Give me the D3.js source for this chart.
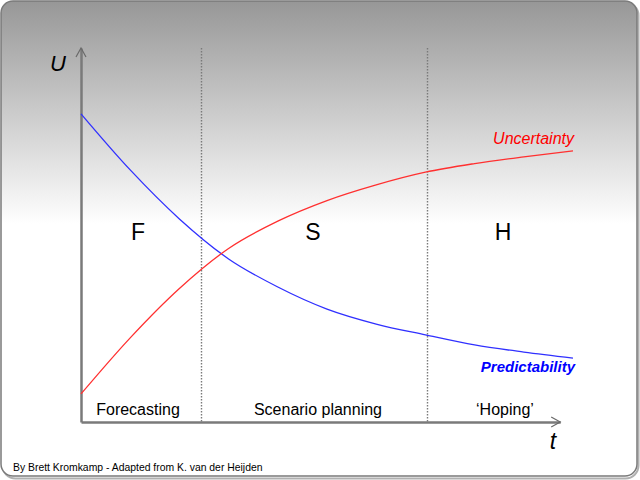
<!DOCTYPE html>
<html>
<head>
<meta charset="utf-8">
<script src="https://cdn.jsdelivr.net/npm/d3@7"></script>
<style>
  body { margin: 0; background: #fff; }
  text { font-family: "Liberation Sans", Arial, sans-serif; }
</style>
</head>
<body>
<div class="chart"></div>
<script>
// time steps (0 = now, 100 = far future)
var timeSteps = [0, 10, 20, 30, 40, 50, 60, 70, 80, 90, 100];
var predictability = [82.4, 67.4, 54.3, 43.6, 36.1, 30.2, 26.2, 23.3, 20.6, 18.7, 17.1];
var uncertainty = [7.5, 22.5, 35.7, 46.4, 53.7, 59.2, 63.4, 66.8, 69.1, 70.9, 72.5];

// zone boundaries on the time axis
var zoneBounds = [0, 24.4, 70.3, 100];
var zoneLetters = ["F", "S", "H"];
var zoneNames = ["Forecasting", "Scenario planning", "\u2018Hoping\u2019"];
var axisEnd = 97.4;

// small hand nudges so labels sit where the original had them (px)
var letterNudge = [-3, -1, 3];
var nameNudge = [-3, 4, 5];

var svgWidth = 640, svgHeight = 480;

var svg = d3.select(".chart")
  .append("svg")
  .attr("width", svgWidth)
  .attr("height", svgHeight);

// background gradient
var defs = svg.append("defs");
var grad = defs.append("linearGradient")
  .attr("id", "bg")
  .attr("x1", 0).attr("y1", 0).attr("x2", 0).attr("y2", 1);
grad.append("stop").attr("offset", "0").attr("stop-color", "#979797");
grad.append("stop").attr("offset", "0.47").attr("stop-color", "#ffffff");
grad.append("stop").attr("offset", "1").attr("stop-color", "#ffffff");

// shadow + frame
svg.append("rect")
  .attr("x", 2.5).attr("y", 2.5)
  .attr("width", 636).attr("height", 476)
  .attr("rx", 13)
  .attr("fill", "none")
  .attr("stroke", "#b0b0b0")
  .attr("stroke-width", 2);

svg.append("rect")
  .attr("x", 1).attr("y", 1)
  .attr("width", 636).attr("height", 475)
  .attr("rx", 12)
  .attr("fill", "url(#bg)")
  .attr("stroke", "#7a7a7a")
  .attr("stroke-width", 1.5);

// scales
var xScale = d3.scaleLinear().domain([0, 100]).range([81, 573]);
var yScale = d3.scaleLinear().domain([0, 100]).range([422, 48]);

var chartGroup = svg.append("g");

// dotted zone dividers
chartGroup.selectAll(".divider")
  .data(zoneBounds.slice(1, -1))
  .enter()
  .append("line")
  .attr("class", "divider")
  .attr("x1", d => Math.round(xScale(d)) + 0.5)
  .attr("x2", d => Math.round(xScale(d)) + 0.5)
  .attr("y1", yScale(100))
  .attr("y2", yScale(0))
  .attr("stroke", "#7a7a7a")
  .attr("stroke-width", 1.4)
  .attr("stroke-dasharray", "1.5,1.5");

// axes without ticks
var xAxis = d3.axisBottom(d3.scaleLinear().domain([0, axisEnd]).range([xScale(0), xScale(axisEnd)]))
  .tickValues([]).tickSizeOuter(0);
var yAxis = d3.axisLeft(yScale).tickValues([]).tickSizeOuter(0);

chartGroup.append("g")
  .attr("transform", `translate(0, ${yScale(0)})`)
  .call(xAxis)
  .select(".domain")
  .attr("stroke", "#7a7a7a")
  .attr("stroke-width", 2.5);

chartGroup.append("g")
  .attr("transform", `translate(${xScale(0)}, 0)`)
  .call(yAxis)
  .select(".domain")
  .attr("stroke", "#7a7a7a")
  .attr("stroke-width", 2.5);

// open arrow heads
var yTip = [xScale(0), yScale(100)];
chartGroup.append("path")
  .attr("d", `M${yTip[0] - 5},${yTip[1] + 9}L${yTip[0]},${yTip[1]}L${yTip[0] + 5},${yTip[1] + 9}`)
  .attr("fill", "none")
  .attr("stroke", "#6a6a6a")
  .attr("stroke-width", 1.2);

var xTip = [xScale(axisEnd), yScale(0)];
chartGroup.append("path")
  .attr("d", `M${xTip[0] - 9},${xTip[1] - 5}L${xTip[0]},${xTip[1]}L${xTip[0] - 9},${xTip[1] + 5}`)
  .attr("fill", "none")
  .attr("stroke", "#6a6a6a")
  .attr("stroke-width", 1.2);

// curves
var line = d3.line()
  .x((d, i) => xScale(timeSteps[i]))
  .y(d => yScale(d))
  .curve(d3.curveMonotoneX);

chartGroup.append("path")
  .datum(predictability)
  .attr("d", line)
  .attr("fill", "none")
  .attr("stroke", "#3030ff")
  .attr("stroke-width", 1.3);

chartGroup.append("path")
  .datum(uncertainty)
  .attr("d", line)
  .attr("fill", "none")
  .attr("stroke", "#ff3030")
  .attr("stroke-width", 1.3);

// series labels
chartGroup.append("text")
  .attr("x", xScale(100) + 1)
  .attr("y", 144)
  .attr("text-anchor", "end")
  .attr("font-size", "16px")
  .attr("font-style", "italic")
  .attr("fill", "#ff0000")
  .text("Uncertainty");

chartGroup.append("text")
  .attr("x", xScale(100) + 2)
  .attr("y", 372)
  .attr("text-anchor", "end")
  .attr("font-size", "15px")
  .attr("font-style", "italic")
  .attr("font-weight", "bold")
  .attr("fill", "#0000ff")
  .text("Predictability");

// zone letters and names
var zones = zoneLetters.map((z, i) => ({
  letter: z,
  name: zoneNames[i],
  mid: (zoneBounds[i] + zoneBounds[i + 1]) / 2,
  i: i
}));

chartGroup.selectAll(".zoneLetter")
  .data(zones)
  .enter()
  .append("text")
  .attr("class", "zoneLetter")
  .attr("x", d => xScale(d.mid) + letterNudge[d.i])
  .attr("y", 240)
  .attr("text-anchor", "middle")
  .attr("font-size", "23px")
  .attr("fill", "#000")
  .text(d => d.letter);

chartGroup.selectAll(".zoneName")
  .data(zones)
  .enter()
  .append("text")
  .attr("class", "zoneName")
  .attr("x", d => xScale(d.mid) + nameNudge[d.i])
  .attr("y", 415)
  .attr("text-anchor", "middle")
  .attr("font-size", "16px")
  .attr("fill", "#000")
  .text(d => d.name);

// axis titles
chartGroup.append("text")
  .attr("x", 58)
  .attr("y", 71)
  .attr("text-anchor", "middle")
  .attr("font-size", "22px")
  .attr("font-style", "italic")
  .attr("fill", "#000")
  .text("U");

chartGroup.append("text")
  .attr("x", 553)
  .attr("y", 449)
  .attr("text-anchor", "middle")
  .attr("font-size", "23px")
  .attr("font-style", "italic")
  .attr("fill", "#000")
  .text("t");

// credit
svg.append("text")
  .attr("x", 13)
  .attr("y", 471)
  .attr("font-size", "10.4px")
  .attr("fill", "#000")
  .text("By Brett Kromkamp - Adapted from K. van der Heijden");
</script>
</body>
</html>
